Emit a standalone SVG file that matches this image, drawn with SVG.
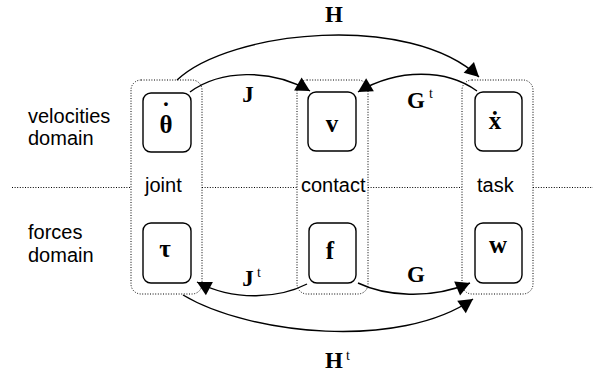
<svg xmlns="http://www.w3.org/2000/svg" width="593" height="376" viewBox="0 0 593 376">
<style>
.col{fill:#fff;stroke:#000;stroke-width:1;stroke-dasharray:1 1.6}
.hl{fill:none;stroke:#000;stroke-width:1;stroke-dasharray:1 1.6}
.box{fill:#fff;stroke:#000;stroke-width:1.4}
.lbl{font-family:"Liberation Sans",Arial,sans-serif;font-size:20px;fill:#000}
.m{font-family:"Liberation Serif","Times New Roman",serif;font-size:23px;font-weight:bold;fill:#000;text-anchor:middle}
.n{font-family:"Liberation Serif","Times New Roman",serif;font-size:25px;font-weight:bold;fill:#000;text-anchor:middle}
.sup{font-family:"Liberation Serif","Times New Roman",serif;font-size:14px;fill:#000}
.arr{fill:none;stroke:#000;stroke-width:1.4}
</style>
<defs>
<marker id="ah" markerUnits="userSpaceOnUse" markerWidth="16" markerHeight="16" refX="14" refY="7.5" orient="auto" overflow="visible">
<path d="M0,0 L14,7.5 L0,15 Z" fill="#000"/>
</marker>
</defs>
<rect width="593" height="376" fill="#fff"/>
<g id="grid">
<line class="hl" x1="12" y1="187.5" x2="131" y2="187.5"/>
<line class="hl" x1="202" y1="187.5" x2="297" y2="187.5"/>
<line class="hl" x1="368" y1="187.5" x2="462" y2="187.5"/>
<line class="hl" x1="533" y1="187.5" x2="593" y2="187.5"/>
</g>
<g id="col-joint"><rect class="col" x="131" y="80" width="71" height="214" rx="10"/><text class="lbl" x="145" y="192">joint</text></g>
<g id="col-contact"><rect class="col" x="297" y="80" width="71" height="214" rx="10"/><text class="lbl" x="301" y="192">contact</text></g>
<g id="col-task"><rect class="col" x="462" y="80" width="71" height="214" rx="10"/><text class="lbl" x="477" y="192">task</text></g>
<g id="domain-labels">
<text class="lbl" x="28" y="123">velocities</text>
<text class="lbl" x="28" y="145">domain</text>
<text class="lbl" x="28" y="239">forces</text>
<text class="lbl" x="28" y="262">domain</text>
</g>
<g id="node-thetadot"><rect class="box" x="143" y="93" width="48" height="59" rx="8"/><text class="n"><tspan x="166" y="133">θ</tspan><tspan x="166" y="120">˙</tspan></text></g>
<g id="node-v"><rect class="box" x="308" y="92" width="48" height="59" rx="8"/><text class="n" x="332" y="132">v</text></g>
<g id="node-xdot"><rect class="box" x="475" y="92" width="47" height="59" rx="8"/><text class="n" x="495" y="129">ẋ</text></g>
<g id="node-tau"><rect class="box" x="143" y="223" width="48" height="60" rx="8"/><text class="n" x="165" y="257">τ</text></g>
<g id="node-f"><rect class="box" x="309" y="223" width="47" height="60" rx="8"/><text class="n" x="330" y="259">f</text></g>
<g id="node-w"><rect class="box" x="475" y="223" width="47" height="60" rx="8"/><text class="n" x="498" y="253">w</text></g>
<g id="connectors">
<path class="arr" d="M177,80 C230,30 410,12 479,77" marker-end="url(#ah)"/>
<path class="arr" d="M190,92 C220,70 270,68 310,91" marker-end="url(#ah)"/>
<path class="arr" d="M477,91 C447,69 398,68 358,92" marker-end="url(#ah)"/>
<path class="arr" d="M307,284 C280,298 235,302 197,282" marker-end="url(#ah)"/>
<path class="arr" d="M358,283 C385,296 430,300 470,283" marker-end="url(#ah)"/>
<path class="arr" d="M183,295 C250,335 400,350 473,299" marker-end="url(#ah)"/>
</g>
<g id="edge-labels">
<text class="m" x="334" y="22">H</text>
<text class="m" x="248" y="102">J</text>
<text class="m" x="416" y="108">G</text><text class="sup" x="429" y="98">t</text>
<text class="m" x="248" y="286">J</text><text class="sup" x="257" y="277">t</text>
<text class="m" x="416" y="282">G</text>
<text class="m" x="334" y="368">H</text><text class="sup" x="346" y="360">t</text>
</g>
</svg>
